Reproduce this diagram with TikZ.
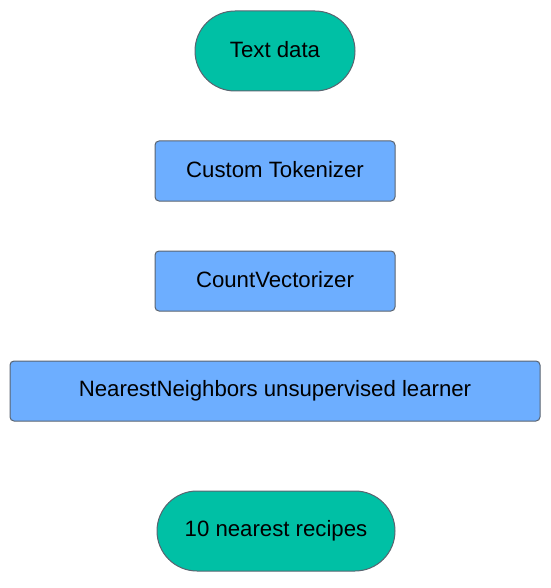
\documentclass[tikz,border=0pt]{standalone}
\usepackage{fontspec}
\setmainfont{Liberation Sans}
\usetikzlibrary{shapes.misc,positioning}
\definecolor{termteal}{RGB}{0,192,165}
\definecolor{procblue}{RGB}{109,174,255}
\definecolor{edgegray}{RGB}{90,100,112}
\tikzset{
  terminal/.style={rounded rectangle, draw=edgegray, line width=1pt, fill=termteal,
    minimum height=80pt, inner sep=0pt, font=\fontsize{22.2}{26}\selectfont},
  process/.style={rectangle, rounded corners=4pt, draw=edgegray, line width=1pt, fill=procblue,
    minimum height=60pt, inner sep=0pt, font=\fontsize{22.2}{26}\selectfont}
}
\begin{document}
\begin{tikzpicture}[x=1pt, y=-1pt]
  \useasboundingbox (0,0) rectangle (550,588);

  % Define nodes
  \node[terminal, minimum width=160pt] (text) at (275, 51) {\raisebox{4pt}{Text data}};
  \node[process, minimum width=240pt] (tok) at (275, 171) {\raisebox{4pt}{Custom Tokenizer}};
  \node[process, minimum width=240pt] (vec) at (275, 281) {\raisebox{4pt}{CountVectorizer}};
  \node[process, minimum width=530pt] (knn) at (275, 391) {\raisebox{4pt}{NearestNeighbors unsupervised learner}};
  \node[terminal, minimum width=238pt] (out) at (276, 531) {\raisebox{3pt}{10 nearest recipes}};
\end{tikzpicture}
\end{document}
